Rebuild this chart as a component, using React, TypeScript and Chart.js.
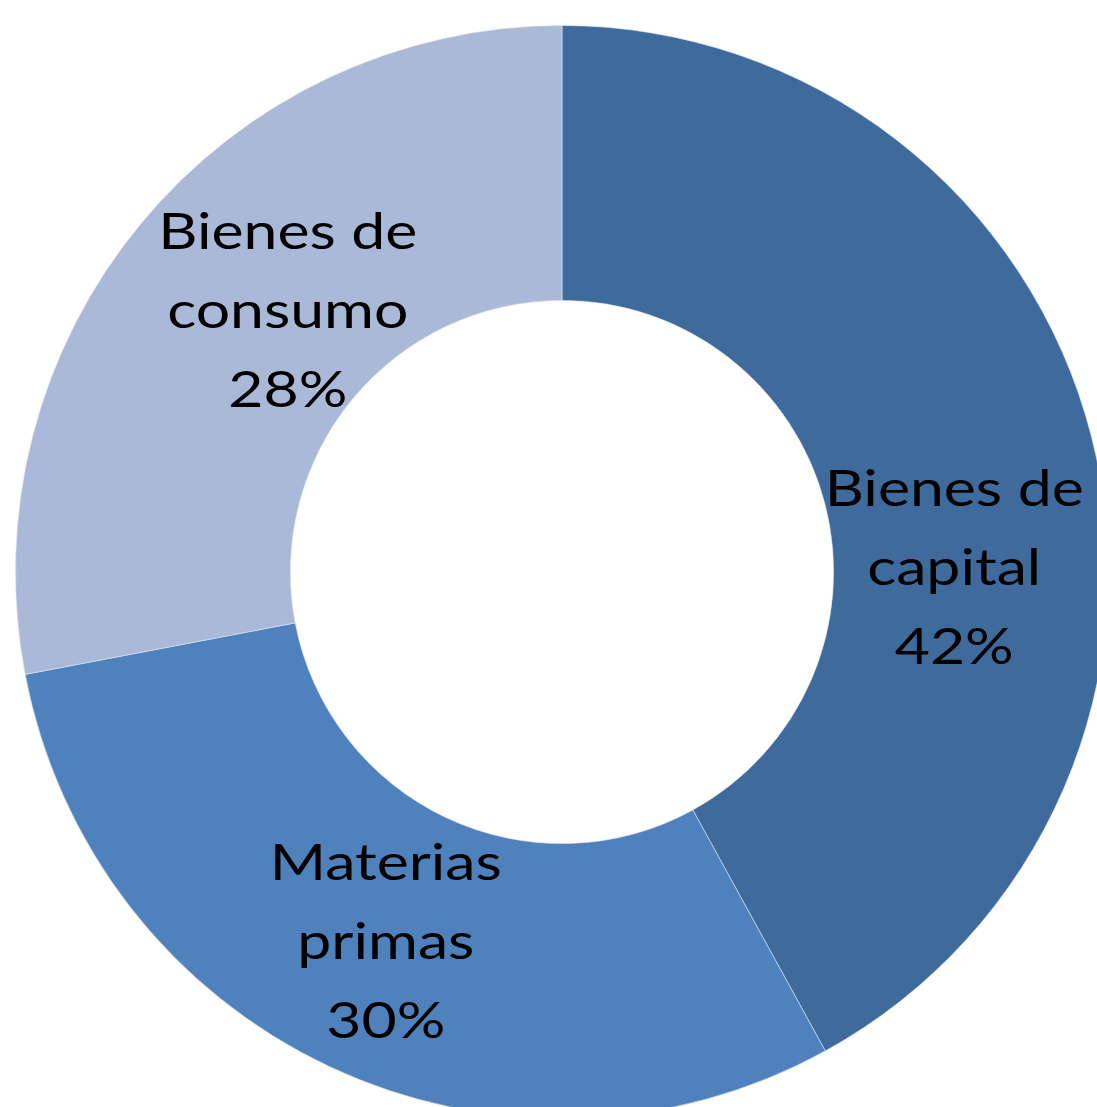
import React, { useEffect, useRef } from "react";
import { Chart, registerables } from "chart.js";

Chart.register(...registerables);

const categories: string[][] = [["Bienes de", "capital"], ["Materias", "primas"], ["Bienes de", "consumo"]];
const values: number[] = [42, 30, 28];
const colors: string[] = ["#3E6A9C", "#4F81BD", "#AAB9D7"];
// label offsets from each slice centre (px)
const labelOffsets: number[][] = [[-4, 98], [-2, 0], [41, 0]];

const labelPlugin = {
  id: "sliceLabels",
  afterDatasetsDraw(chart: any) {
    const ctx = chart.ctx;
    const meta = chart.getDatasetMeta(0);
    const total = values.reduce((a, b) => a + b, 0);
    const lh = 79;
    meta.data.forEach((arc: any, i: number) => {
      const p = arc.tooltipPosition();
      const x = p.x + labelOffsets[i][0];
      const y = p.y + labelOffsets[i][1];
      const lines = [...categories[i], Math.round((values[i] / total) * 100) + "%"];
      lines.forEach((t, j) => {
        ctx.save();
        ctx.fillStyle = "#000000";
        ctx.font = "51px Lato, 'Open Sans', sans-serif";
        ctx.textAlign = "center";
        ctx.textBaseline = "middle";
        ctx.translate(x, y + (j - 1) * lh);
        ctx.scale(1.19, 1);
        ctx.fillText(t, 0, 0);
        ctx.restore();
      });
    });
  },
};

export default function App() {
  const ref = useRef<HTMLCanvasElement | null>(null);
  useEffect(() => {
    if (!ref.current) return;
    const chart = new Chart(ref.current, {
      type: "doughnut",
      data: {
        labels: categories.map((c) => c.join(" ")),
        datasets: [
          {
            data: values,
            backgroundColor: colors,
            borderColor: "rgba(220,230,245,0.6)",
            borderWidth: 1,
          },
        ],
      },
      options: {
        animation: false,
        responsive: false,
        maintainAspectRatio: false,
        cutout: "49.7%",
        layout: { padding: 0 },
        plugins: {
          legend: { display: false },
          tooltip: { enabled: false },
        },
      },
      plugins: [labelPlugin],
    });
    return () => chart.destroy();
  }, []);
  return (
    <div style={{ position: "fixed", left: 0, top: 0, width: 1097, height: 1107, overflow: "hidden", background: "#fff" }}>
      <canvas ref={ref} width={1094} height={1094} style={{ position: "absolute", left: 15, top: 25, width: 1094, height: 1094 }} />
    </div>
  );
}
